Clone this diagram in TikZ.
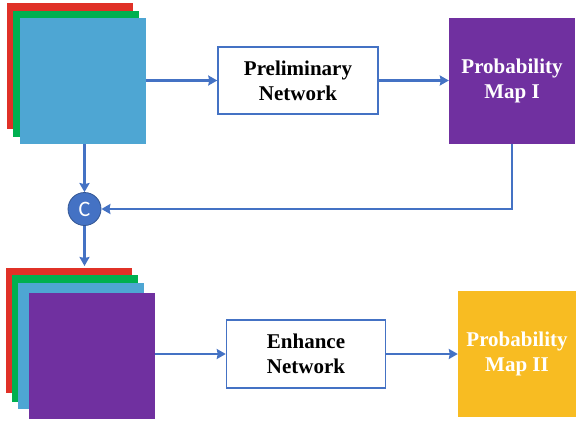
\documentclass[tikz,border=0pt]{standalone}
\usepackage{fontspec}
\setmainfont{Liberation Serif}
\newfontfamily\labelsans{Carlito}
\usetikzlibrary{arrows.meta}
\definecolor{linkblue}{HTML}{4472C4}
\definecolor{chred}{HTML}{E03127}
\definecolor{chgreen}{HTML}{00B050}
\definecolor{chblue}{HTML}{4EA6D3}
\definecolor{chpurple}{HTML}{7030A0}
\definecolor{chyellow}{HTML}{F8BC22}
\tikzset{
  netbox/.style={draw=linkblue, line width=1.5pt, fill=white, text=black,
    font=\fontsize{21}{25}\selectfont\bfseries, align=center, inner sep=0pt},
  mapbox/.style={draw=none, text=white,
    font=\fontsize{21}{25}\selectfont\bfseries, align=center, inner sep=0pt},
  link/.style={draw=linkblue, line width=2.6pt, -{Stealth[length=9pt,width=10pt,inset=1pt]}},
  catnode/.style={circle, fill=linkblue, draw=linkblue!75!black, line width=0.8pt,
    minimum size=33pt, inner sep=0pt, text=white, font=\labelsans\fontsize{22}{22}\selectfont}
}
\begin{document}
\begin{tikzpicture}[x=1pt, y=-1pt]
\useasboundingbox (0,0) rectangle (577,420);

% input image stack (three channels)
\fill[chred]   (7,3)   rectangle (133,129);
\fill[chgreen] (13,11) rectangle (139,137);
\fill[chblue]  (20,18) rectangle (146,144);
\node[minimum width=126pt, minimum height=126pt, inner sep=0pt] (inp) at (83,81) {};

% preliminary network and first probability map
\node[netbox, minimum width=160pt, minimum height=67pt] (prelim) at (298,80.5) {Preliminary\\Network};
\node[mapbox, fill=chpurple, minimum width=126pt, minimum height=126pt] (pm1) at (512,81) {Probability\\Map I};

% concatenation
\node[catnode] (cat) at (84.5,209) {C};

% stacked input for the second stage
\fill[chred]    (6,268)  rectangle (132,393);
\fill[chgreen]  (12,275) rectangle (138,402);
\fill[chblue]   (18,283) rectangle (144,409);
\fill[chpurple] (29,293) rectangle (155,419);
\node[minimum width=126pt, minimum height=126pt, inner sep=0pt] (stack) at (92,356) {};
\coordinate (stacktop) at (84.5,266);

% enhance network and final probability map
\node[netbox, minimum width=159pt, minimum height=68pt] (enh) at (306,354) {Enhance\\Network};
\node[mapbox, fill=chyellow, minimum width=118pt, minimum height=126pt] (pm2) at (517,354) {Probability\\Map II};

% connectors
\draw[link] (inp.east |- prelim.west) -- (prelim.west);
\draw[link] (prelim.east) -- (pm1.west |- prelim.east);
\draw[link] (pm1.south) -- (pm1.south |- cat.east) -- (cat.east);
\draw[link] (inp.south -| cat.north) -- (cat.north);
\draw[link] (cat.south) -- (stacktop);
\draw[link] (stack.east |- enh.west) -- (enh.west);
\draw[link] (enh.east) -- (pm2.west);
\end{tikzpicture}
\end{document}
